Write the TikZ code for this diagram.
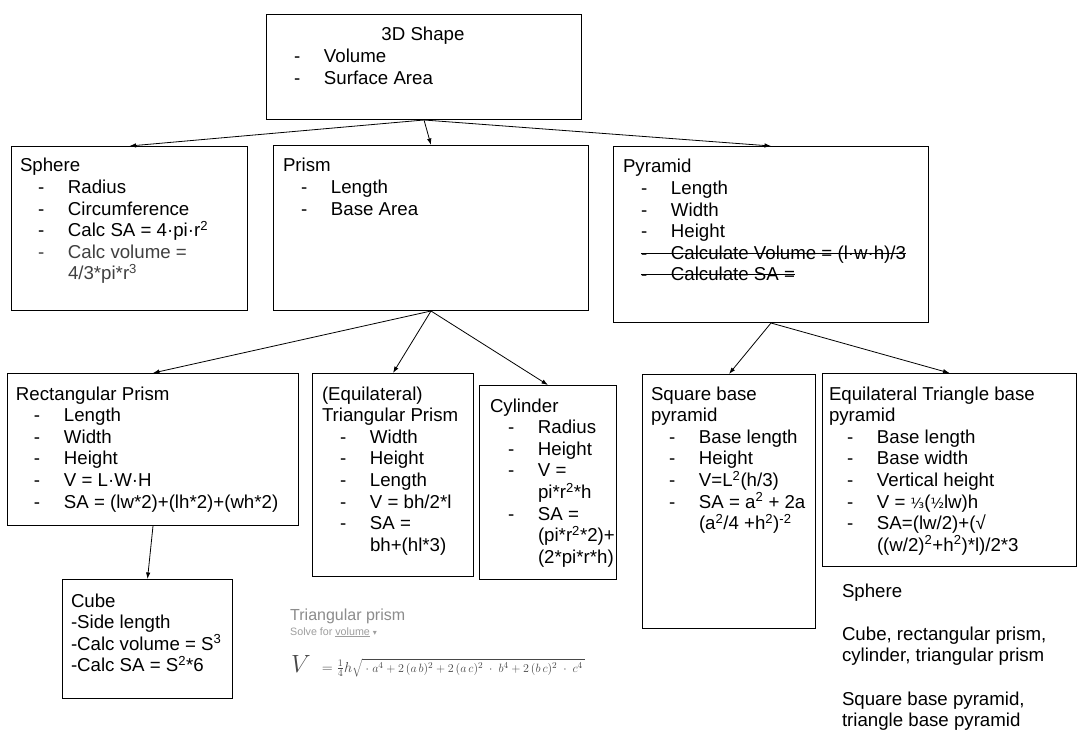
\documentclass[tikz,border=0pt]{standalone}
\usepackage{fontspec}
\setmainfont{Liberation Sans}
\newfontfamily\dejavu{DejaVu Sans}
\usetikzlibrary{arrows.meta}
\newcommand{\lns}[1]{\vtop{\baselineskip=21.6pt\lineskiplimit=-100pt\lineskip=0pt\halign{##\hfil\cr#1\crcr}}}
\newcommand{\itm}[1]{\hspace*{18pt}\makebox[30pt][l]{-}#1}
\newcommand{\cnt}[1]{\hspace*{48pt}#1}
\newsavebox{\strkbox}
\newcommand{\strk}[1]{\sbox{\strkbox}{#1}\rlap{\rule[0.3em]{\wd\strkbox}{0.9pt}}\usebox{\strkbox}}
\newcommand{\sfr}[1]{{\dejavu\fontsize{14}{14}\selectfont #1}}
\begin{document}
\begin{tikzpicture}[x=1pt,y=-1pt,
  box/.style={draw=black, line width=1pt, rectangle, inner sep=0pt, anchor=north west},
  txt/.style={anchor=base west, inner sep=0pt, outer sep=0pt, font=\fontsize{18.67}{21.6}\selectfont},
  conn/.style={-{Latex[length=6.5pt,width=4.5pt]}, line width=0.8pt}]
\fill[white] (0,0) rectangle (1087,730);
\useasboundingbox (0,0) rectangle (1087,730);

% boxes
\node[box, minimum width=315pt, minimum height=105pt] (top) at (266,14) {};
\node[box, minimum width=236pt, minimum height=164pt] (sphere) at (11,146) {};
\node[box, minimum width=315pt, minimum height=165pt] (prism) at (273,145) {};
\node[box, minimum width=315pt, minimum height=176pt] (pyr) at (613,146) {};
\node[box, minimum width=291pt, minimum height=152pt] (rect) at (7,373) {};
\node[box, minimum width=161pt, minimum height=203pt] (tri) at (312,373) {};
\node[box, minimum width=137pt, minimum height=194pt] (cyl) at (479,385) {};
\node[box, minimum width=173pt, minimum height=254pt] (sq) at (642,374) {};
\node[box, minimum width=254pt, minimum height=193pt] (eq) at (822,373) {};
\node[box, minimum width=170pt, minimum height=119pt] (cube) at (62,579) {};

% texts
\node[txt, anchor=base] (topT) at (423,41) {3D Shape};
\node[txt] (topL) at (276,63) {\lns{\itm{Volume}\cr\itm{Surface Area}}};

\node[txt] (sphereT) at (20,172) {\lns{Sphere\cr
\itm{Radius}\cr
\itm{Circumference}\cr
\itm{Calc SA = 4·pi·r\textsuperscript{2}}\cr
{\color{black!75}\itm{Calc volume =}}\cr
{\color{black!75}\cnt{4/3*pi*r\textsuperscript{3}}}}};

\node[txt] (prismT) at (283,172) {\lns{Prism\cr\itm{Length}\cr\itm{Base Area}}};

\node[txt] (pyrT) at (623,173) {\lns{Pyramid\cr
\itm{Length}\cr
\itm{Width}\cr
\itm{Height}\cr
\hspace*{18pt}\strk{\makebox[30pt][l]{-}Calculate Volume = (l·w·h)/3}\cr
\hspace*{18pt}\strk{\makebox[30pt][l]{-}Calculate SA =}}};

\node[txt] (rectT) at (16,400) {\lns{Rectangular Prism\cr
\itm{Length}\cr
\itm{Width}\cr
\itm{Height}\cr
\itm{V = L·W·H}\cr
\itm{SA = (lw*2)+(lh*2)+(wh*2)}}};

\node[txt] (triT) at (322,400) {\lns{(Equilateral)\cr
Triangular Prism\cr
\itm{Width}\cr
\itm{Height}\cr
\itm{Length}\cr
\itm{V = bh/2*l}\cr
\itm{SA =}\cr
\cnt{bh+(hl*3)}}};

\node[txt] (cylT) at (490,412) {\lns{Cylinder\cr
\itm{Radius}\cr
\itm{Height}\cr
\itm{V =}\cr
\cnt{pi*r\textsuperscript{2}*h}\cr
\itm{SA =}\cr
\cnt{(pi*r\textsuperscript{2}*2)+}\cr
\cnt{(2*pi*r*h)}}};

\node[txt] (sqT) at (651,400) {\lns{Square base\cr
pyramid\cr
\itm{Base length}\cr
\itm{Height}\cr
\itm{V=L\textsuperscript{2}(h/3)}\cr
\itm{SA = a\textsuperscript{2} + 2a}\cr
\cnt{(a\textsuperscript{2}/4 +h\textsuperscript{2})\textsuperscript{-2}}}};

\node[txt] (eqT) at (829,400) {\lns{Equilateral Triangle base\cr
pyramid\cr
\itm{Base length}\cr
\itm{Base width}\cr
\itm{Vertical height}\cr
\itm{V = \sfr{⅓}(\sfr{½}lw)h}\cr
\itm{SA=(lw/2)+(√}\cr
\cnt{((w/2)\textsuperscript{2}+h\textsuperscript{2})*l)/2*3}}};

\node[txt] (cubeT) at (71,607) {\lns{Cube\cr
-Side length\cr
-Calc volume = S\textsuperscript{3}\cr
-Calc SA = S\textsuperscript{2}*6}};

\node[txt] (legend) at (842,597) {\lns{Sphere\cr\cr
Cube, rectangular prism,\cr
cylinder, triangular prism\cr\cr
Square base pyramid,\cr
triangle base pyramid}};

% gray formula block
\node[anchor=base west, inner sep=0pt, text=black!45, font=\fontsize{16}{19}\selectfont] (fT) at (290,620) {Triangular prism};
\node[anchor=base west, inner sep=0pt, text=black!38, font=\fontsize{10.7}{12}\selectfont] (fS) at (290,635) {Solve for \underline{volume} {\dejavu\fontsize{8}{8}\selectfont ▾}};
\node[anchor=base west, inner sep=0pt, text=black!72, font=\fontsize{13}{15}\selectfont] (fF) at (291,672)
 {{\fontsize{24}{26}\selectfont$V$}\hspace{11pt}{\fontsize{15}{17}\selectfont$=$}\hspace{4pt}{\fontsize{14}{16}\selectfont$\frac{1}{4}h$}$\sqrt{\;\cdot\;a^4+2\,(a\,b)^2+2\,(a\,c)^2\;\cdot\;b^4+2\,(b\,c)^2\;\cdot\;c^4\,}$};

% connectors
\draw[conn] (top.south) -- (sphere.north);
\draw[conn] (top.south) -- (prism.north);
\draw[conn] (top.south) -- (pyr.north);
\draw[conn] (prism.south) -- (rect.north);
\draw[conn] (prism.south) -- (tri.north);
\draw[conn] (prism.south) -- (cyl.north);
\draw[conn] (pyr.south) -- (sq.north);
\draw[conn] (pyr.south) -- (eq.north);
\draw[conn] (rect.south) -- (cube.north);
\end{tikzpicture}
\end{document}
